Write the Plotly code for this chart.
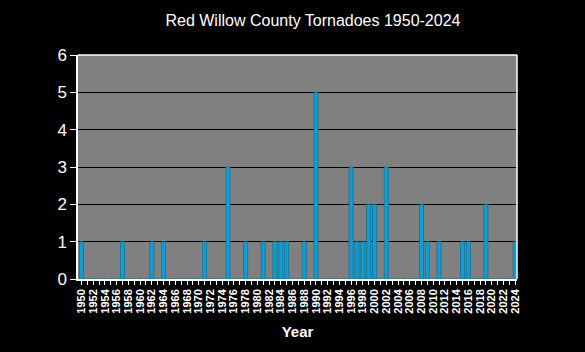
import plotly.graph_objects as go

years = list(range(1950, 2025))
tornado_years = [1950, 1957, 1962, 1964, 1971, 1975, 1978, 1981, 1983, 1984, 1985,
                 1988, 1990, 1996, 1997, 1998, 1999, 2000, 2002, 2008, 2009, 2011,
                 2015, 2016, 2019, 2024]
tornado_counts = [1, 1, 1, 1, 1, 3, 1, 1, 1, 1, 1,
                  1, 5, 3, 1, 1, 2, 2, 3, 2, 1, 1,
                  1, 1, 2, 1]
counts = [tornado_counts[tornado_years.index(y)] if y in tornado_years else 0 for y in years]
tick_years = list(range(1950, 2025, 2))

fig = go.Figure()
fig.add_trace(go.Bar(
    x=years, y=counts, width=0.7,
    marker=dict(color="#0A9FD6", line=dict(color="#05668F", width=0.6)),
))

fig.update_layout(
    width=585, height=352,
    paper_bgcolor="black", plot_bgcolor="#808080",
    margin=dict(l=78, r=68, t=55, b=73),
    showlegend=False,
    title=dict(text="Red Willow County Tornadoes 1950-2024", x=0.535, xanchor="center",
               y=0.942, yanchor="middle",
               font=dict(family="Arial, Liberation Sans", size=16, color="white")),
    font=dict(family="Arial, Liberation Sans", color="white"),
)
fig.update_xaxes(
    range=[1949.4, 2024.3],
    tickmode="array", tickvals=tick_years, ticktext=["<b>%d</b>" % y for y in tick_years],
    tickangle=-90, tickfont=dict(size=11, color="white"),
    ticks="outside", ticklen=4, tickcolor="white",
    minor=dict(ticks="outside", ticklen=4, tickcolor="white", dtick=1, tick0=1950),
    showline=True, linecolor="white", linewidth=1.5,
    showgrid=False, zeroline=False,
    title=dict(text="<b>Year</b>", font=dict(size=15, color="white"), standoff=14),
)
fig.update_yaxes(
    range=[0, 6], dtick=1,
    tickfont=dict(size=17, color="white"),
    ticks="outside", ticklen=6, tickcolor="white",
    showline=True, linecolor="white", linewidth=1.5,
    showgrid=True, gridcolor="black", gridwidth=1.2,
    zeroline=False,
)
fig.add_shape(type="line", xref="paper", yref="paper", x0=0, x1=1, y0=1, y1=1,
              line=dict(color="white", width=1.5))
fig.add_shape(type="line", xref="paper", yref="paper", x0=1, x1=1, y0=0, y1=1,
              line=dict(color="white", width=1.5))

fig.write_html("out.html")
